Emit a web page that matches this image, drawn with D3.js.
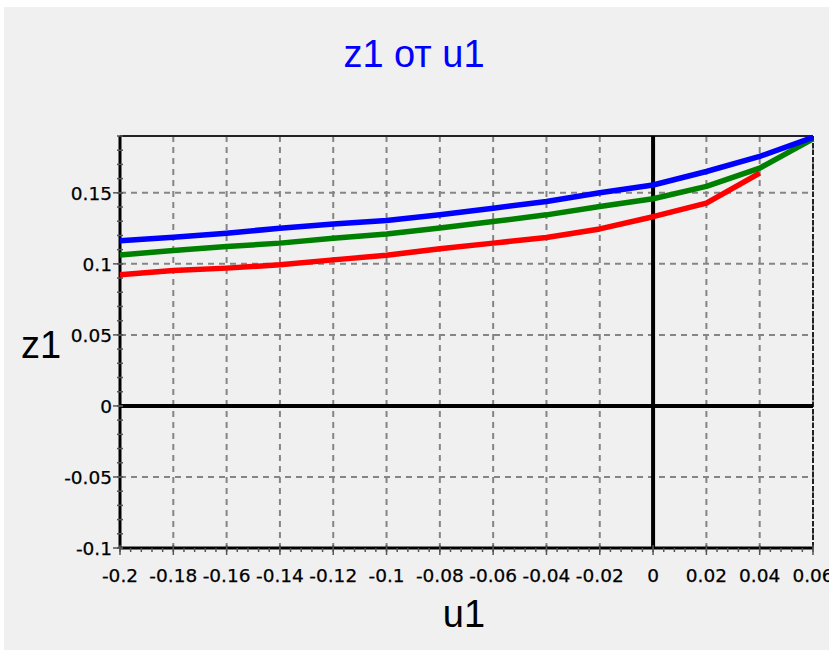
<!DOCTYPE html>
<html>
<head>
<meta charset="utf-8">
<script src="https://cdn.jsdelivr.net/npm/d3@7"></script>
<style>
    html, body { margin: 0; padding: 0; background: #fff; }
    svg { display: block; }
    .tick-label { font-family: "DejaVu Sans", sans-serif; font-size: 18.5px; fill: #000; stroke: #000; stroke-width: 0.25px; }
    .axis-title { font-family: "Liberation Sans", Arial, sans-serif; font-size: 38px; fill: #000; }
    .chart-title { font-family: "Liberation Sans", Arial, sans-serif; font-size: 38px; fill: #0000ff; }
</style>
</head>
<body>
<div id="chart"></div>
<script>
const U_VALUES = [-0.2, -0.18, -0.16, -0.14, -0.12, -0.1, -0.08, -0.06, -0.04, -0.02, 0, 0.02, 0.04, 0.06];
const Z_BLUE  = [0.1162, 0.1188, 0.1216, 0.1251, 0.1280, 0.1305, 0.1345, 0.1392, 0.1439, 0.1500, 0.1555, 0.1650, 0.1756, 0.1890];
const Z_GREEN = [0.1063, 0.1094, 0.1122, 0.1146, 0.1180, 0.1210, 0.1253, 0.1298, 0.1345, 0.1404, 0.1458, 0.1545, 0.1674, 0.1880];
const Z_RED   = [0.0923, 0.0953, 0.0970, 0.0993, 0.1028, 0.1060, 0.1106, 0.1146, 0.1185, 0.1246, 0.1332, 0.1428, 0.1638];
const X_TICKS = [-0.2, -0.18, -0.16, -0.14, -0.12, -0.1, -0.08, -0.06, -0.04, -0.02, 0, 0.02, 0.04, 0.06];
const Y_TICKS = [-0.1, -0.05, 0, 0.05, 0.1, 0.15];
const X_DOMAIN = [-0.2, 0.06];
const Y_DOMAIN = [-0.1, 0.19];

const SERIES = [
    { name: 'red',   color: '#ff0000', values: Z_RED },
    { name: 'green', color: '#008000', values: Z_GREEN },
    { name: 'blue',  color: '#0000ff', values: Z_BLUE }
];

// plain hyphen minus like the original, not the unicode one d3 uses
const fmt = d => String(+d.toFixed(2));

class ChartController {
    constructor(el){
        this.width = 829;
        this.height = 650;
        this.box = { left: 120, right: 813, top: 136, bottom: 548 };
        this.$element = d3.select(el);
        this.draw();
    }

    draw(){
        this.setUpSVG();
        this.setUpScales();
        this.drawGrid();
        this.drawFrame();
        this.drawTicks();
        this.drawLines();
        this.drawTexts();
    }

    setUpSVG(){
        this.$svg = this.$element.append('svg')
            .attr('width', this.width)
            .attr('height', this.height);
        this.$svg.append('rect')
            .attr('x', 4).attr('y', 7)
            .attr('width', this.width - 4).attr('height', this.height - 7)
            .attr('fill', '#f0f0f0');
        this.$g = this.$svg.append('g');
    }

    setUpScales(){
        this.scales = {
            x: d3.scaleLinear().domain(X_DOMAIN).range([this.box.left, this.box.right]),
            y: d3.scaleLinear().domain(Y_DOMAIN).range([this.box.bottom, this.box.top])
        };
    }

    drawGrid(){
        let grid = this.$g.append('g').attr('class', 'grid')
            .attr('stroke', '#858585')
            .attr('stroke-width', 2)
            .attr('stroke-dasharray', '6,5');
        grid.selectAll('.gx')
            .data(X_TICKS.filter(d => d !== 0 && d > X_DOMAIN[0]))
            .enter().append('line')
                .attr('x1', d => this.scales.x(d)).attr('x2', d => this.scales.x(d))
                .attr('y1', this.box.top).attr('y2', this.box.bottom);
        grid.selectAll('.gy')
            .data(Y_TICKS.filter(d => d !== 0 && d > Y_DOMAIN[0]))
            .enter().append('line')
                .attr('x1', this.box.left).attr('x2', this.box.right)
                .attr('y1', d => this.scales.y(d)).attr('y2', d => this.scales.y(d));
    }

    drawFrame(){
        let b = this.box;
        // right edge is dashed, the others solid
        this.$g.append('line')
            .attr('x1', b.right).attr('x2', b.right)
            .attr('y1', b.top).attr('y2', b.bottom)
            .attr('stroke', '#222').attr('stroke-width', 2)
            .attr('stroke-dasharray', '5,2');
        this.$g.append('line')
            .attr('x1', b.left).attr('x2', b.right)
            .attr('y1', b.top).attr('y2', b.top)
            .attr('stroke', '#222').attr('stroke-width', 2);
        this.$g.append('line')
            .attr('x1', b.left).attr('x2', b.right)
            .attr('y1', b.bottom).attr('y2', b.bottom)
            .attr('stroke', '#000').attr('stroke-width', 3);
        this.$g.append('line')
            .attr('x1', b.left).attr('x2', b.left)
            .attr('y1', b.top).attr('y2', b.bottom + 1)
            .attr('stroke', '#000').attr('stroke-width', 3);

        // zero axes
        this.$g.append('line')
            .attr('x1', b.left).attr('x2', b.right)
            .attr('y1', this.scales.y(0)).attr('y2', this.scales.y(0))
            .attr('stroke', '#000').attr('stroke-width', 4);
        this.$g.append('line')
            .attr('x1', this.scales.x(0)).attr('x2', this.scales.x(0))
            .attr('y1', b.top).attr('y2', b.bottom)
            .attr('stroke', '#000').attr('stroke-width', 4);
    }

    drawTicks(){
        let b = this.box;
        let xMinor = d3.range(0, 66).map(i => X_DOMAIN[0] + i * 0.004);
        let yMinor = d3.range(0, 30).map(i => Y_DOMAIN[0] + i * 0.01);

        let t = this.$g.append('g').attr('class', 'ticks').attr('stroke', '#555');
        t.selectAll('.xminor').data(xMinor).enter().append('line')
            .attr('x1', d => this.scales.x(d)).attr('x2', d => this.scales.x(d))
            .attr('y1', b.bottom).attr('y2', b.bottom + 4)
            .attr('stroke-width', 1.5);
        t.selectAll('.xmajor').data(X_TICKS).enter().append('line')
            .attr('x1', d => this.scales.x(d)).attr('x2', d => this.scales.x(d))
            .attr('y1', b.bottom - 3).attr('y2', b.bottom + 7)
            .attr('stroke-width', 1.5);
        t.selectAll('.yminor').data(yMinor).enter().append('line')
            .attr('x1', b.left - 3).attr('x2', b.left + 3)
            .attr('y1', d => this.scales.y(d)).attr('y2', d => this.scales.y(d))
            .attr('stroke-width', 1.5);
        t.selectAll('.ymajor').data(Y_TICKS).enter().append('line')
            .attr('x1', b.left - 7).attr('x2', b.left + 3)
            .attr('y1', d => this.scales.y(d)).attr('y2', d => this.scales.y(d))
            .attr('stroke-width', 1.5);
    }

    line(){
        return d3.line()
            .x((d, i) => this.scales.x(U_VALUES[i]))
            .y(d => this.scales.y(d));
    }

    drawLines(){
        this.$g.selectAll('.path')
            .data(SERIES)
            .enter()
                .append('path')
                .attr('class', d => 'path ' + d.name)
                .attr('fill', 'none')
                .attr('stroke', d => d.color)
                .attr('stroke-width', 5.5)
                .attr('stroke-linejoin', 'round')
                .attr('d', d => this.line()(d.values));
    }

    drawTexts(){
        let b = this.box;
        this.$g.selectAll('.xlabel').data(X_TICKS).enter().append('text')
            .attr('class', 'tick-label')
            .attr('x', d => this.scales.x(d))
            .attr('y', b.bottom + 34)
            .attr('text-anchor', 'middle')
            .text(fmt);
        this.$g.selectAll('.ylabel').data(Y_TICKS).enter().append('text')
            .attr('class', 'tick-label')
            .attr('x', b.left - 8)
            .attr('y', d => this.scales.y(d) + 7)
            .attr('text-anchor', 'end')
            .text(fmt);

        this.$svg.append('text')
            .attr('class', 'chart-title')
            .attr('x', 414).attr('y', 67)
            .attr('text-anchor', 'middle')
            .text('z1 от u1');
        this.$svg.append('text')
            .attr('class', 'axis-title')
            .attr('x', 464).attr('y', 627)
            .attr('text-anchor', 'middle')
            .text('u1');
        this.$svg.append('text')
            .attr('class', 'axis-title')
            .attr('x', 41).attr('y', 358)
            .attr('text-anchor', 'middle')
            .text('z1');
    }
}

new ChartController(document.getElementById('chart'));
</script>
</body>
</html>
